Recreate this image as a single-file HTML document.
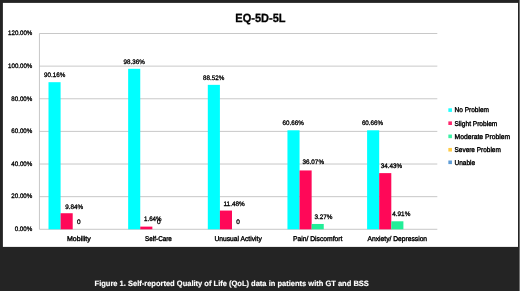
<!DOCTYPE html>
<html><head><meta charset="utf-8"><title>EQ-5D-5L</title>
<style>
html,body{margin:0;padding:0;background:#242424;}
body{width:520px;height:291px;overflow:hidden;position:relative;}
svg text{font-family:"Liberation Sans",sans-serif;text-rendering:geometricPrecision;}
.t{font-size:6.45px;fill:#000;stroke:#000;stroke-width:0.3px;}
.c{font-size:6.9px;stroke-width:0.38px;}
.title{font-size:11.9px;font-weight:bold;fill:#000;stroke:#000;stroke-width:0.3px;}
.cap{font-size:7.7px;font-weight:bold;fill:#fff;stroke:#fff;stroke-width:0.15px;}
</style></head><body>
<svg width="520" height="291" viewBox="0 0 520 291" style="position:absolute;left:0;top:0">
<rect x="0" y="0" width="520" height="291" fill="#242424"/>
<g style="filter:blur(0.35px)">
<rect x="2.9" y="2.9" width="515.1" height="244.0" fill="#ffffff"/>
<rect x="519.1" y="0" width="0.9" height="291" fill="#7a7a7a"/>
<line x1="39.45" x2="437.3" y1="229.30" y2="229.30" stroke="#b0b0b0" stroke-width="0.7"/>
<text x="32.30" y="231.10" text-anchor="end" class="t" textLength="17.6" lengthAdjust="spacingAndGlyphs">0.00%</text>
<line x1="39.45" x2="437.3" y1="196.67" y2="196.67" stroke="#b0b0b0" stroke-width="0.7"/>
<text x="32.30" y="198.47" text-anchor="end" class="t" textLength="21.0" lengthAdjust="spacingAndGlyphs">20.00%</text>
<line x1="39.45" x2="437.3" y1="164.03" y2="164.03" stroke="#b0b0b0" stroke-width="0.7"/>
<text x="32.30" y="165.83" text-anchor="end" class="t" textLength="21.0" lengthAdjust="spacingAndGlyphs">40.00%</text>
<line x1="39.45" x2="437.3" y1="131.40" y2="131.40" stroke="#b0b0b0" stroke-width="0.7"/>
<text x="32.30" y="133.20" text-anchor="end" class="t" textLength="21.0" lengthAdjust="spacingAndGlyphs">60.00%</text>
<line x1="39.45" x2="437.3" y1="98.77" y2="98.77" stroke="#b0b0b0" stroke-width="0.7"/>
<text x="32.30" y="100.57" text-anchor="end" class="t" textLength="21.0" lengthAdjust="spacingAndGlyphs">80.00%</text>
<line x1="39.45" x2="437.3" y1="66.13" y2="66.13" stroke="#b0b0b0" stroke-width="0.7"/>
<text x="32.30" y="67.93" text-anchor="end" class="t" textLength="24.2" lengthAdjust="spacingAndGlyphs">100.00%</text>
<line x1="39.45" x2="437.3" y1="33.50" y2="33.50" stroke="#b0b0b0" stroke-width="0.7"/>
<text x="32.30" y="35.30" text-anchor="end" class="t" textLength="24.2" lengthAdjust="spacingAndGlyphs">120.00%</text>
<line x1="39.45" x2="39.45" y1="33.5" y2="229.3" stroke="#b0b0b0" stroke-width="0.7"/>
<rect x="48.50" y="82.19" width="12.1" height="147.11" fill="#00ffff"/>
<rect x="60.60" y="213.24" width="12.1" height="16.06" fill="#ff0858"/>
<text x="78.90" y="240.65" text-anchor="middle" class="t c" textLength="23.8" lengthAdjust="spacingAndGlyphs">Mobility</text>
<rect x="128.15" y="68.81" width="12.1" height="160.49" fill="#00ffff"/>
<rect x="140.25" y="226.62" width="12.1" height="2.68" fill="#ff0858"/>
<text x="158.50" y="240.65" text-anchor="middle" class="t c" textLength="26.8" lengthAdjust="spacingAndGlyphs">Self-Care</text>
<rect x="207.80" y="84.86" width="12.1" height="144.44" fill="#00ffff"/>
<rect x="219.90" y="210.57" width="12.1" height="18.73" fill="#ff0858"/>
<text x="238.10" y="240.65" text-anchor="middle" class="t c" textLength="47.3" lengthAdjust="spacingAndGlyphs">Unusual Activity</text>
<rect x="287.45" y="130.32" width="12.1" height="98.98" fill="#00ffff"/>
<rect x="299.55" y="170.45" width="12.1" height="58.85" fill="#ff0858"/>
<rect x="311.65" y="223.96" width="12.1" height="5.34" fill="#22ee98"/>
<text x="317.70" y="240.65" text-anchor="middle" class="t c" textLength="49.5" lengthAdjust="spacingAndGlyphs">Pain/ Discomfort</text>
<rect x="367.10" y="130.32" width="12.1" height="98.98" fill="#00ffff"/>
<rect x="379.20" y="173.12" width="12.1" height="56.18" fill="#ff0858"/>
<rect x="391.30" y="221.29" width="12.1" height="8.01" fill="#22ee98"/>
<text x="397.30" y="240.65" text-anchor="middle" class="t c" textLength="59.6" lengthAdjust="spacingAndGlyphs">Anxiety/ Depression</text>
<text x="54.70" y="76.90" text-anchor="middle" class="t" textLength="21.2" lengthAdjust="spacingAndGlyphs">90.16%</text>
<text x="134.20" y="64.20" text-anchor="middle" class="t" textLength="21.2" lengthAdjust="spacingAndGlyphs">98.36%</text>
<text x="213.70" y="79.60" text-anchor="middle" class="t" textLength="21.2" lengthAdjust="spacingAndGlyphs">88.52%</text>
<text x="293.10" y="125.30" text-anchor="middle" class="t" textLength="21.2" lengthAdjust="spacingAndGlyphs">60.66%</text>
<text x="372.50" y="125.30" text-anchor="middle" class="t" textLength="21.2" lengthAdjust="spacingAndGlyphs">60.66%</text>
<text x="74.20" y="208.60" text-anchor="middle" class="t" textLength="18.0" lengthAdjust="spacingAndGlyphs">9.84%</text>
<text x="152.80" y="220.60" text-anchor="middle" class="t" textLength="17.5" lengthAdjust="spacingAndGlyphs">1.64%</text>
<text x="234.10" y="205.80" text-anchor="middle" class="t" textLength="21.2" lengthAdjust="spacingAndGlyphs">11.48%</text>
<text x="313.30" y="164.30" text-anchor="middle" class="t" textLength="21.4" lengthAdjust="spacingAndGlyphs">36.07%</text>
<text x="391.50" y="167.90" text-anchor="middle" class="t" textLength="21.4" lengthAdjust="spacingAndGlyphs">34.43%</text>
<text x="323.40" y="218.90" text-anchor="middle" class="t" textLength="18.0" lengthAdjust="spacingAndGlyphs">3.27%</text>
<text x="401.30" y="215.70" text-anchor="middle" class="t" textLength="18.0" lengthAdjust="spacingAndGlyphs">4.91%</text>
<text x="78.80" y="224.10" text-anchor="middle" class="t">0</text>
<text x="158.90" y="224.10" text-anchor="middle" class="t">0</text>
<text x="238.00" y="223.70" text-anchor="middle" class="t">0</text>
<text x="260.40" y="21.75" text-anchor="middle" class="title" textLength="50.2" lengthAdjust="spacingAndGlyphs">EQ-5D-5L</text>
<text x="231.70" y="285.50" text-anchor="middle" class="cap" textLength="274.3" lengthAdjust="spacingAndGlyphs">Figure 1. Self-reported Quality of Life (QoL) data in patients with GT and BSS</text>
<rect x="448.35" y="108.30" width="3.6" height="3.6" fill="#00ffff" opacity="0.88"/>
<text x="454.50" y="112.45" text-anchor="start" class="t c" textLength="34.5" lengthAdjust="spacingAndGlyphs">No Problem</text>
<rect x="448.35" y="121.40" width="3.6" height="3.6" fill="#ff0858" opacity="0.88"/>
<text x="454.50" y="125.55" text-anchor="start" class="t c" textLength="42.8" lengthAdjust="spacingAndGlyphs">Slight Problem</text>
<rect x="448.35" y="134.55" width="3.6" height="3.6" fill="#22ee98" opacity="0.88"/>
<text x="454.50" y="138.70" text-anchor="start" class="t c" textLength="55.6" lengthAdjust="spacingAndGlyphs">Moderate Problem</text>
<rect x="448.35" y="147.95" width="3.6" height="3.6" fill="#ffc52d" opacity="0.88"/>
<text x="454.50" y="152.10" text-anchor="start" class="t c" textLength="46.3" lengthAdjust="spacingAndGlyphs">Severe Problem</text>
<rect x="448.35" y="160.50" width="3.6" height="3.6" fill="#4a90d0" opacity="0.88"/>
<text x="454.50" y="164.65" text-anchor="start" class="t c" textLength="20.7" lengthAdjust="spacingAndGlyphs">Unable</text>
</g>
</svg>
</body></html>
